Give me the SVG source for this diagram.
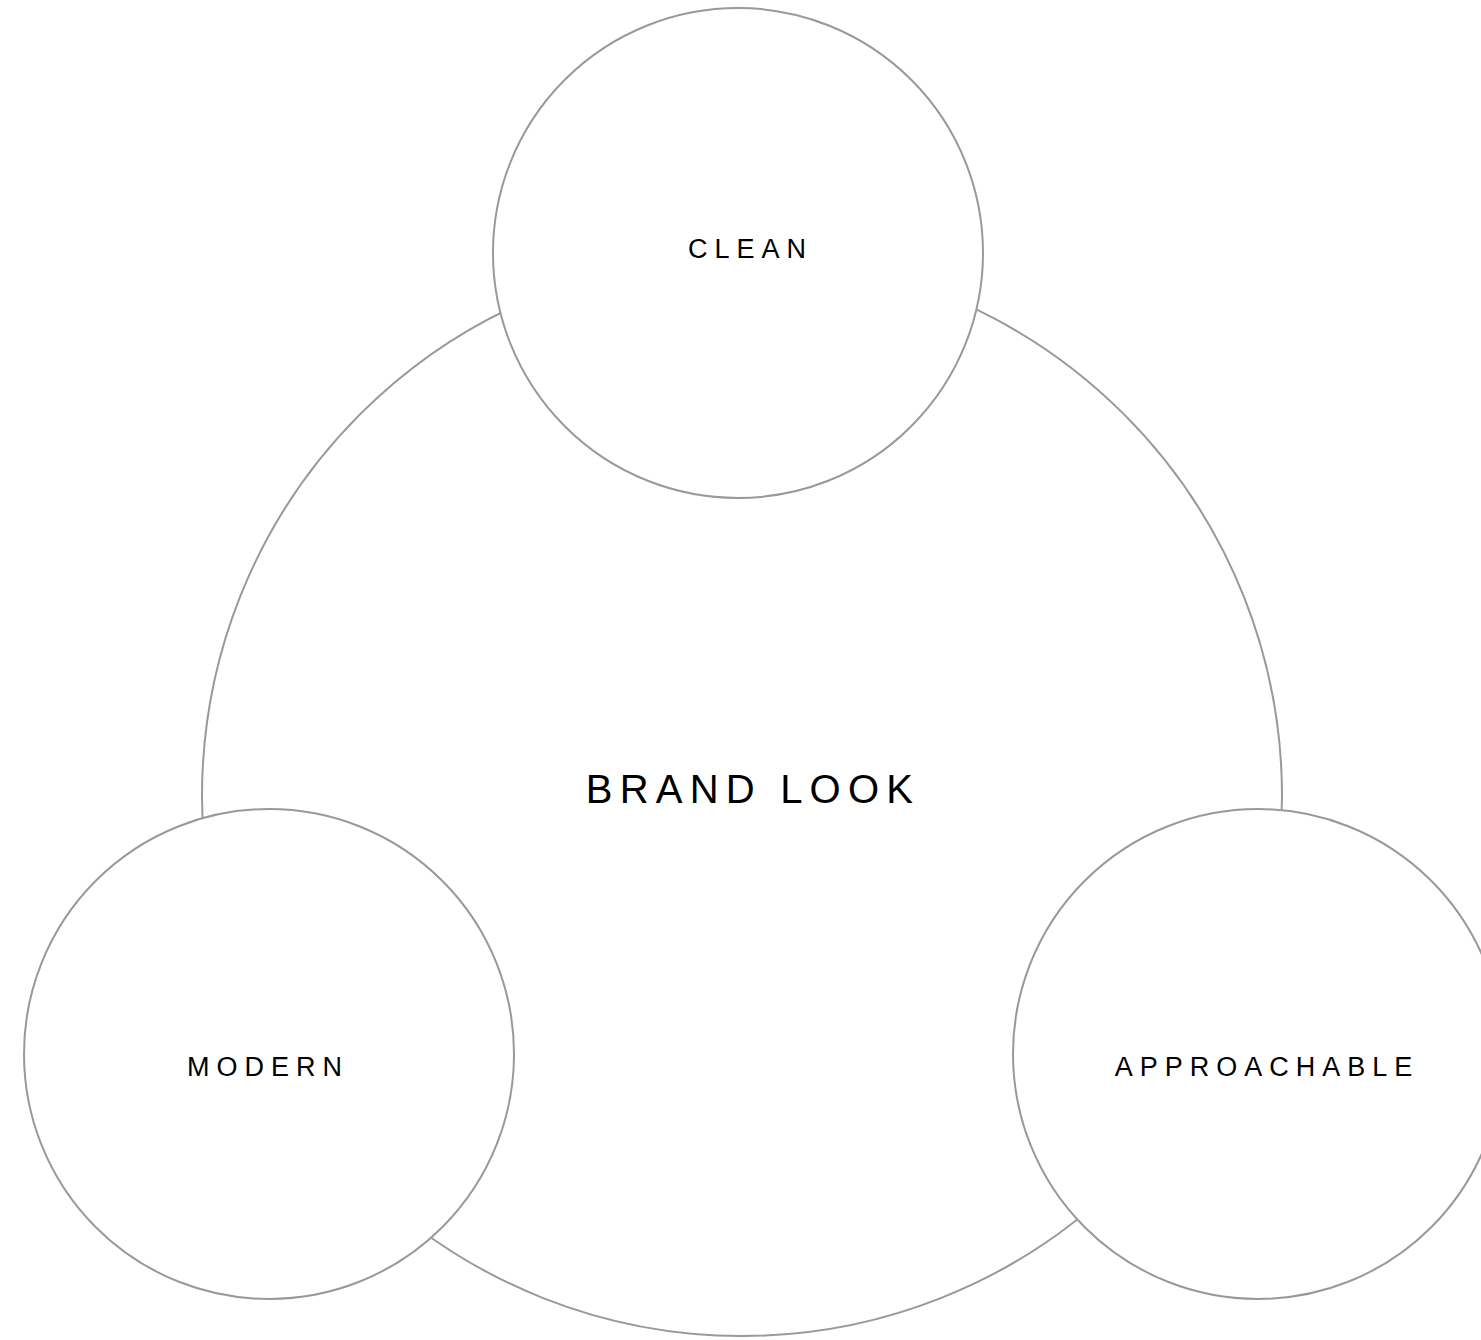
<svg xmlns="http://www.w3.org/2000/svg" width="1481" height="1340" viewBox="0 0 1481 1340">
<style>
.c{fill:#fff;stroke:#999;stroke-width:2}
.t{font-family:"Liberation Sans",Arial,sans-serif;fill:#000;text-anchor:middle}
.s{font-size:27px;letter-spacing:7px}
.b{font-size:40px;letter-spacing:7.2px}
</style>
<rect width="1481" height="1340" fill="#fff"/>
<g id="brand-look">
<circle class="c" cx="742" cy="796" r="540"/>
<text class="t b" x="753" y="803">BRAND LOOK</text>
</g>
<g id="clean">
<circle class="c" cx="738" cy="253" r="245"/>
<text class="t s" x="750.5" y="258">CLEAN</text>
</g>
<g id="modern">
<circle class="c" cx="269" cy="1054" r="245"/>
<text class="t s" x="268" y="1076">MODERN</text>
</g>
<g id="approachable">
<circle class="c" cx="1258" cy="1054" r="245"/>
<text class="t s" x="1267" y="1076">APPROACHABLE</text>
</g>
<g id="connectors"/>
</svg>
